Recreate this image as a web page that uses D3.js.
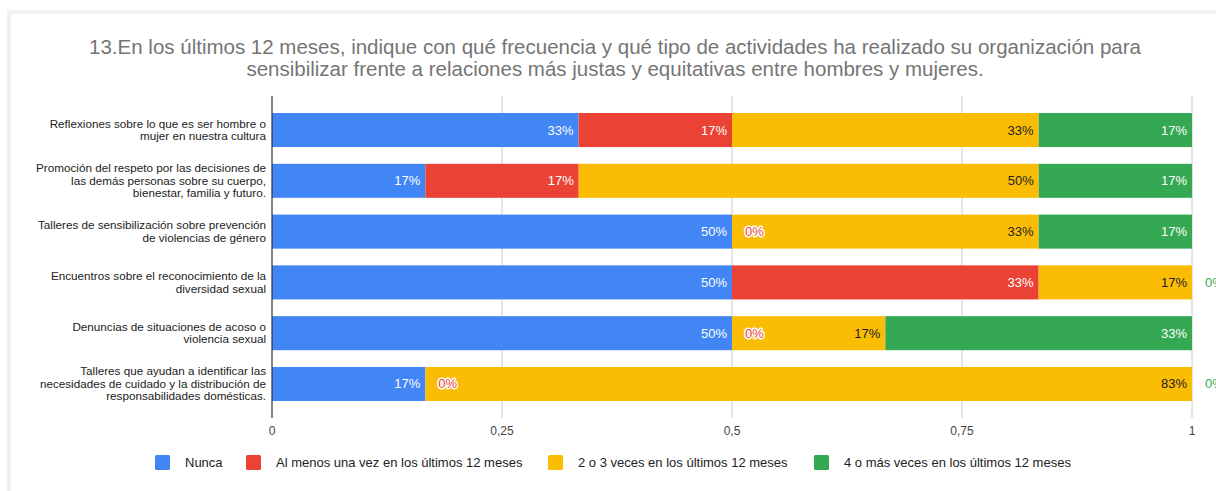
<!DOCTYPE html>
<html><head><meta charset="utf-8">
<script src="https://cdn.jsdelivr.net/npm/d3@7"></script>
<style>body{margin:0;background:#fff;}svg{display:block;font-family:"Liberation Sans",Arial,sans-serif;}</style>
</head><body>
<svg id="c" width="1216" height="491"></svg>
<script>
const categories = [
  ["Reflexiones sobre lo que es ser hombre o","mujer en nuestra cultura"],
  ["Promoción del respeto por las decisiones de","las demás personas sobre su cuerpo,","bienestar, familia y futuro."],
  ["Talleres de sensibilización sobre prevención","de violencias de género"],
  ["Encuentros sobre el reconocimiento de la","diversidad sexual"],
  ["Denuncias de situaciones de acoso o","violencia sexual"],
  ["Talleres que ayudan a identificar las","necesidades de cuidado y la distribución de","responsabilidades domésticas."]
];
const seriesNames = ["Nunca","Al menos una vez en los últimos 12 meses","2 o 3 veces en los últimos 12 meses","4 o más veces en los últimos 12 meses"];
const nunca   = [0.3333,0.1667,0.5,0.5,0.5,0.1667];
const alMenos = [0.1667,0.1667,0,0.3333,0,0];
const dosTres = [0.3333,0.5,0.3333,0.1667,0.1667,0.8333];
const cuatro  = [0.1667,0.1667,0.1667,0,0.3333,0];
const xTicks = [0,0.25,0.5,0.75,1];
const xTickLabels = ["0","0,25","0,5","0,75","1"];
const colors = ["#4285f4","#ea4335","#fbbc04","#34a853"];
const labelColors = ["#ffffff","#ffffff","#222222","#ffffff"];

const svg = d3.select("#c");
// card frame
svg.append("rect").attr("x",9).attr("y",12).attr("width",1240).attr("height",520)
  .attr("fill","#fff").attr("stroke","#f1f1f1").attr("stroke-width",4);

svg.append("text").attr("x",615).attr("y",54).attr("text-anchor","middle")
  .attr("font-size",20.5).attr("fill","#757575")
  .text("13.En los últimos 12 meses, indique con qué frecuencia y qué tipo de actividades ha realizado su organización para");
svg.append("text").attr("x",615).attr("y",76).attr("text-anchor","middle")
  .attr("font-size",20.5).attr("fill","#757575")
  .text("sensibilizar frente a relaciones más justas y equitativas entre hombres y mujeres.");

const x = d3.scaleLinear().domain([0,1]).range([272,1192]);
const y = d3.scaleBand().domain(d3.range(categories.length)).range([96,418]).paddingInner(0.33).paddingOuter(0.335);

// gridlines
svg.append("g").selectAll("line").data(xTicks.slice(1)).join("line")
  .attr("x1",d=>x(d)).attr("x2",d=>x(d)).attr("y1",96).attr("y2",418)
  .attr("stroke","#cccccc").attr("stroke-width",1);

const series = [nunca,alMenos,dosTres,cuatro];
const rows = categories.map((c,i)=>{ let acc=0; return series.map((s,k)=>{ const x0=acc; acc+=s[i]; return {i,k,x0,x1:acc,v:s[i]}; }); });

const g = svg.append("g");
rows.flat().forEach(d=>{
  if(d.v>0){
    g.append("rect").attr("x",x(d.x0)).attr("y",y(d.i)).attr("width",x(d.x1)-x(d.x0)).attr("height",y.bandwidth())
      .attr("fill",colors[d.k]);
  }
});
// labels
rows.flat().forEach(d=>{
  const cy = y(d.i)+y.bandwidth()/2+4.5;
  const txt = Math.round(d.v*100)+"%";
  if(d.v>0){
    g.append("text").attr("x",x(d.x1)-5).attr("y",cy).attr("text-anchor","end")
      .attr("font-size",13).attr("fill",labelColors[d.k]).text(txt);
  } else {
    g.append("text").attr("x",x(d.x0)+13).attr("y",cy).attr("text-anchor","start")
      .attr("font-size",13).attr("fill",colors[d.k]).attr("stroke","#fff").attr("stroke-width",3)
      .attr("stroke-linejoin","round").attr("paint-order","stroke").text(txt);
  }
});

// axis line
svg.append("line").attr("x1",272).attr("x2",272).attr("y1",96).attr("y2",418).attr("stroke","#333").attr("stroke-width",1.2);

// x tick labels
svg.append("g").selectAll("text").data(xTicks).join("text")
  .attr("x",d=>x(d)).attr("y",435).attr("text-anchor","middle").attr("font-size",12).attr("fill","#444")
  .text((d,i)=>xTickLabels[i]);

// y labels
categories.forEach((lines,i)=>{
  const cy = y(i)+y.bandwidth()/2;
  const lh = 12.5;
  const start = cy - (lines.length-1)*lh/2 + 4;
  const t = svg.append("text").attr("text-anchor","end").attr("font-size",11.7).attr("fill","#222");
  lines.forEach((l,j)=>t.append("tspan").attr("x",266).attr("y",start+j*lh).text(l));
});

// legend
const legX = [155,246,548,814];
seriesNames.forEach((n,k)=>{
  svg.append("rect").attr("x",legX[k]).attr("y",455).attr("width",15).attr("height",15).attr("rx",1.5).attr("fill",colors[k]);
  svg.append("text").attr("x",legX[k]+30).attr("y",467).attr("font-size",13).attr("fill","#222").text(n);
});
</script>
</body></html>
